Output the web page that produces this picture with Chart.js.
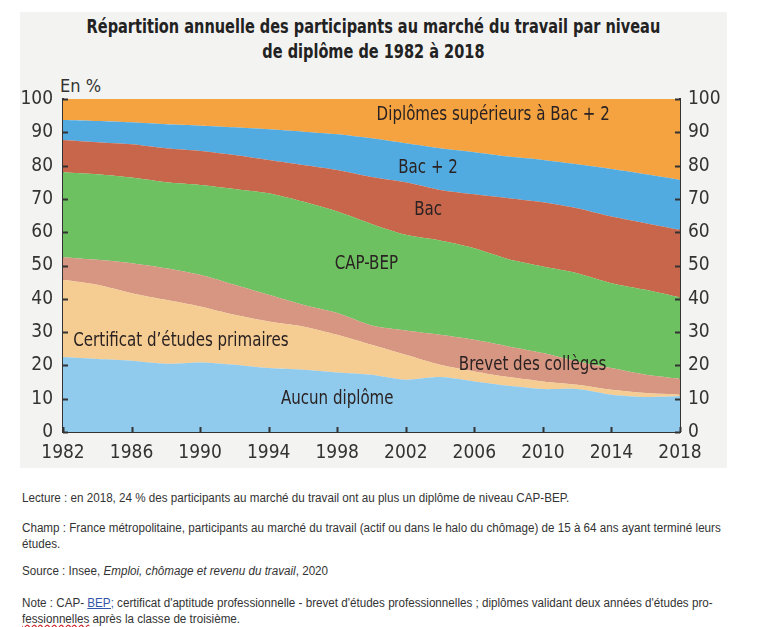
<!DOCTYPE html>
<html lang="fr">
<head>
<meta charset="utf-8">
<title>Répartition annuelle des participants au marché du travail</title>
<script src="https://cdn.jsdelivr.net/npm/chart.js@4.4.1/dist/chart.umd.min.js"></script>
<style>
  body { margin: 0; background: #fff; width: 763px; height: 627px; position: relative; overflow: hidden; }
  #panel { position: absolute; left: 20px; top: 12px; width: 707px; height: 456px; background: #f3f3f1; }
  #chart { position: absolute; left: 0; top: 0; }
  .titre { position: absolute; left: 0; width: 707px; text-align: center; color: #222; white-space: nowrap;
           font-family: 'Liberation Sans Narrow', 'DejaVu Sans Condensed', sans-serif; font-weight: bold; font-size: 19px;
           transform: scaleX(0.85); transform-origin: 353px 0; }
  #unite { position: absolute; left: 40px; top: 63px; color: #333;
           font-family: 'Liberation Sans Narrow', 'DejaVu Sans Condensed', sans-serif; font-size: 18px; }
  .note { position: absolute; left: 22px; color: #333; font-family: 'Liberation Sans', Arial, sans-serif;
          font-size: 12px; line-height: 16px; white-space: nowrap; transform: scaleX(0.97); transform-origin: 0 0; }
  .bep { color: #3355aa; text-decoration: underline; }
  .faute { text-decoration: underline wavy #d02020; }
</style>
</head>
<body>
<div id="panel">
  <div class="titre" style="top:3px">Répartition annuelle des participants au marché du travail par niveau</div>
  <div class="titre" style="top:28px">de diplôme de 1982 à 2018</div>
  <div id="unite">En %</div>
  <canvas id="chart" width="707" height="456"></canvas>
</div>

<div class="note" style="top:490px">Lecture : en 2018, 24 % des participants au marché du travail ont au plus un diplôme de niveau CAP-BEP.</div>
<div class="note" style="top:520px">Champ : France métropolitaine, participants au marché du travail (actif ou dans le halo du chômage) de 15 à 64 ans ayant terminé leurs<br>études.</div>
<div class="note" style="top:563px">Source : Insee, <i>Emploi, chômage et revenu du travail</i>, 2020</div>
<div class="note" style="top:595px">Note : CAP- <span class="bep">BEP;</span> certificat d'aptitude professionnelle - brevet d'études professionnelles ; diplômes validant deux années d'études pro-<br><span class="faute">fessionnelles</span> après la classe de troisième.</div>

<script>
// Années (tous les 2 ans)
const annees = [1982, 1984, 1986, 1988, 1990, 1992, 1994, 1996, 1998, 2000,
                2002, 2004, 2006, 2008, 2010, 2012, 2014, 2016, 2018];

// Parts en % par niveau de diplôme (du bas vers le haut)
const aucunDiplome = [22.5, 21.9, 21.4, 20.5, 20.9, 20.2, 19.2, 18.7, 17.9, 17.2,
                      15.7, 16.5, 15.2, 13.9, 12.9, 12.9, 11.2, 10.5, 10.7];
const certificat   = [23.2, 22.3, 20.3, 19.2, 16.8, 15.0, 14.0, 13.0, 11.3, 9.0,
                      7.5, 3.7, 3.0, 2.6, 2.3, 1.3, 1.5, 1.2, 0.5];
const brevet       = [6.8, 7.5, 9.0, 9.5, 9.5, 9.0, 8.0, 6.5, 6.5, 5.8,
                      7.3, 9.0, 9.5, 9.2, 8.5, 7.0, 6.5, 5.5, 4.8];
const capBep       = [25.5, 25.7, 25.7, 25.8, 27.0, 28.8, 30.5, 31.0, 30.5, 30.5,
                      28.7, 28.3, 27.5, 26.2, 26.0, 26.5, 25.5, 25.5, 24.4];
const bac          = [9.7, 9.6, 10.0, 10.2, 10.2, 10.2, 10.0, 11.0, 12.5, 14.1,
                      15.8, 15.2, 16.2, 18.3, 19.3, 19.5, 20.0, 20.0, 20.3];
const bacPlus2     = [6.0, 6.4, 6.6, 7.2, 7.6, 8.3, 9.2, 10.0, 10.7, 11.6,
                      11.7, 12.5, 12.6, 12.5, 12.7, 13.2, 14.3, 14.7, 15.0];
const superieurs   = [6.3, 6.6, 7.0, 7.6, 8.0, 8.5, 9.1, 9.8, 10.6, 11.8,
                      13.3, 14.8, 16.0, 17.3, 18.3, 19.6, 21.0, 22.6, 24.3];

// Graduations
const ticksY = [0, 10, 20, 30, 40, 50, 60, 70, 80, 90, 100];
const ticksX = [1982, 1986, 1990, 1994, 1998, 2002, 2006, 2010, 2014, 2018];

const police = "'Liberation Sans Narrow', 'DejaVu Sans Condensed', sans-serif";

const series = [
    { label: 'Aucun diplôme', data: aucunDiplome, color: '#90caec' },
    { label: "Certificat d’études primaires", data: certificat, color: '#f5cc91' },
    { label: 'Brevet des collèges', data: brevet, color: '#d79682' },
    { label: 'CAP-BEP', data: capBep, color: '#6dc160' },
    { label: 'Bac', data: bac, color: '#c8664c' },
    { label: 'Bac + 2', data: bacPlus2, color: '#52abe0' },
    { label: 'Diplômes supérieurs à Bac + 2', data: superieurs, color: '#f4a340' }
];

// Étiquettes posées dans les zones (année, valeur cumulée)
const etiquettes = [
    { text: 'Diplômes supérieurs à Bac + 2', x: 2007.1, y: 95.2, align: 'center' },
    { text: 'Bac + 2', x: 2003.3, y: 79.2, align: 'center' },
    { text: 'Bac', x: 2003.3, y: 66.7, align: 'center' },
    { text: 'CAP-BEP', x: 1999.7, y: 50.5, align: 'center' },
    { text: 'Certificat d’études primaires', x: 1982.6, y: 27.4, align: 'left' },
    { text: 'Brevet des collèges', x: 2009.4, y: 20.2, align: 'center' },
    { text: 'Aucun diplôme', x: 1998.0, y: 9.9, align: 'center' }
];

// Petites graduations tournées vers l'intérieur + étiquettes
const decorPlugin = {
    id: 'decor',
    afterDatasetsDraw(chart) {
        const ctx = chart.ctx;
        const area = chart.chartArea;
        const sx = chart.scales.x, sy = chart.scales.y;
        ctx.save();
        ctx.strokeStyle = '#333';
        ctx.lineWidth = 2;
        ctx.beginPath();
        ticksY.forEach(v => {
            const py = Math.round(sy.getPixelForValue(v)) + 0.5;
            ctx.moveTo(area.left, py); ctx.lineTo(area.left + 5, py);
            ctx.moveTo(area.right, py); ctx.lineTo(area.right - 5, py);
        });
        ticksX.forEach(v => {
            const px = Math.round(sx.getPixelForValue(v)) + 0.5;
            ctx.moveTo(px, area.bottom); ctx.lineTo(px, area.bottom - 5);
        });
        ctx.stroke();

        ctx.fillStyle = '#2a2222';
        ctx.font = '18px ' + police;
        ctx.textBaseline = 'middle';
        etiquettes.forEach(e => {
            ctx.save();
            ctx.translate(sx.getPixelForValue(e.x), sy.getPixelForValue(e.y));
            ctx.scale(0.93, 1.05);
            ctx.textAlign = e.align;
            ctx.fillText(e.text, 0, 0);
            ctx.restore();
        });
        ctx.restore();
    }
};

const ctx = document.getElementById('chart').getContext('2d');
new Chart(ctx, {
    type: 'line',
    data: {
        datasets: series.map((s, i) => ({
            label: s.label,
            data: annees.map((a, j) => ({ x: a, y: s.data[j] })),
            backgroundColor: s.color,
            borderWidth: 0,
            pointRadius: 0,
            tension: 0.25,
            fill: i === 0 ? 'origin' : '-1'
        }))
    },
    options: {
        responsive: false,
        animation: false,
        layout: { padding: { top: 87, left: 0, right: 0, bottom: 0 } },
        plugins: { legend: { display: false }, tooltip: { enabled: false } },
        scales: {
            x: {
                type: 'linear',
                min: 1982, max: 2018,
                afterFit(scale) { scale.height = 36; },
                grid: { drawOnChartArea: false, drawTicks: false },
                border: { color: '#333', width: 2 },
                afterBuildTicks(scale) { scale.ticks = ticksX.map(v => ({ value: v })); },
                ticks: { color: '#333', padding: 10, font: { family: police, size: 19 },
                         maxRotation: 0, callback: v => String(v) }
            },
            y: {
                stacked: true,
                min: 0, max: 100,
                afterFit(scale) { scale.width = 43; },
                grid: { drawOnChartArea: false, drawTicks: false },
                border: { color: '#333', width: 2 },
                afterBuildTicks(scale) { scale.ticks = ticksY.map(v => ({ value: v })); },
                ticks: { color: '#333', padding: 10, font: { family: police, size: 19 } }
            },
            y2: {
                position: 'right',
                min: 0, max: 100,
                afterFit(scale) { scale.width = 47; },
                grid: { drawOnChartArea: false, drawTicks: false },
                border: { color: '#333', width: 2 },
                afterBuildTicks(scale) { scale.ticks = ticksY.map(v => ({ value: v })); },
                ticks: { color: '#333', padding: 8, font: { family: police, size: 19 } }
            }
        }
    },
    plugins: [decorPlugin]
});
</script>
</body>
</html>
